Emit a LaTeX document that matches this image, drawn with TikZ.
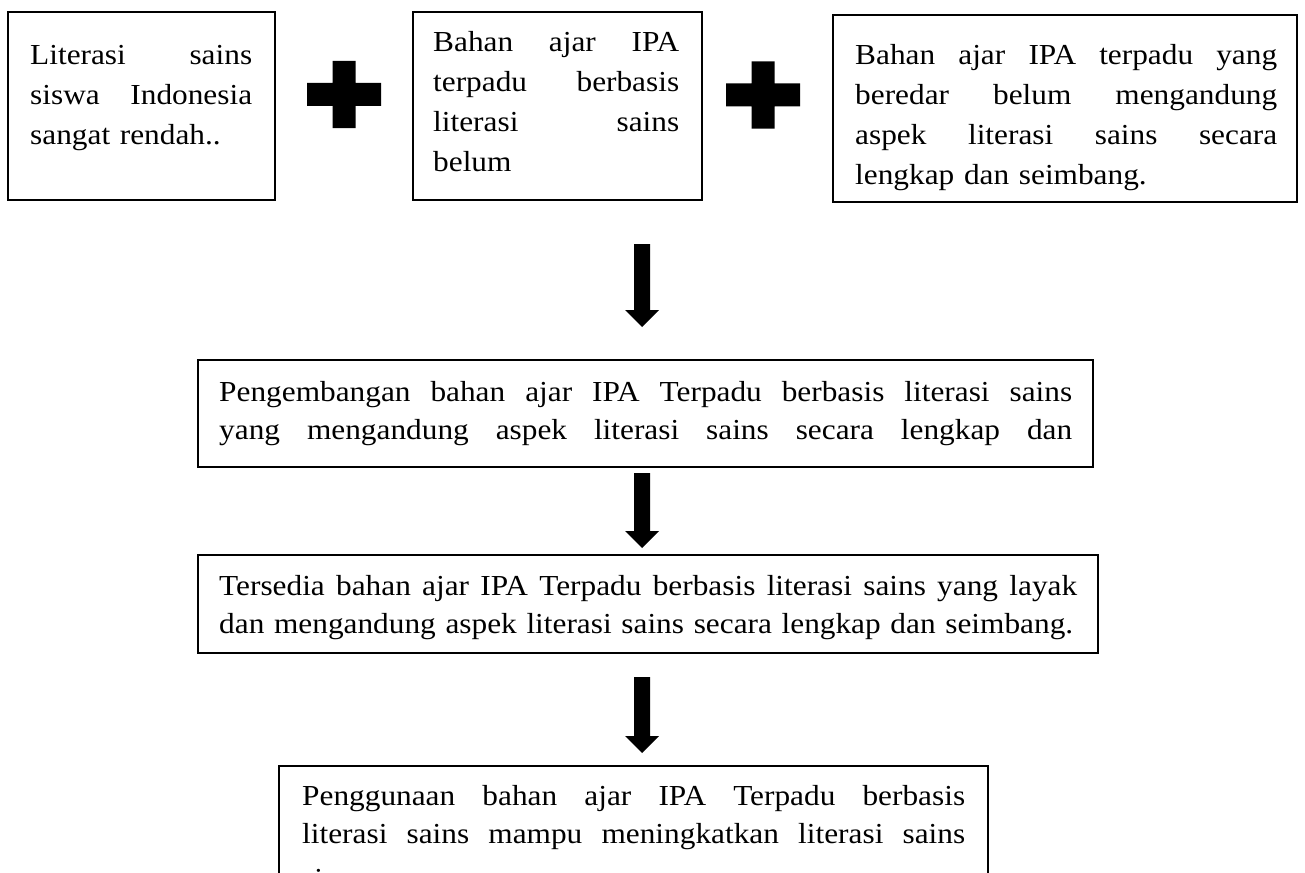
\documentclass[tikz,border=0pt]{standalone}
\usepackage{fontspec}
\setmainfont{Liberation Serif}[FakeStretch=1.08]
\usetikzlibrary{calc}
\newcommand\jl[2]{\leavevmode\hbox to #1{\spaceskip=0.25em plus 1fil\relax #2}}
\newcommand\barrow[2]{\fill ($(#1)+(-8,0)$) -- ($(#2)+(-8,-17)$) -- ($(#2)+(-17,-17)$) -- (#2) -- ($(#2)+(17,-17)$) -- ($(#2)+(8,-17)$) -- ($(#1)+(8,0)$) -- cycle;}
\newcommand\plussign[1]{\fill[shift={(#1)}] (-11.5,-33.5) -- (11.5,-33.5) -- (11.5,-11.5) -- (37,-11.5) -- (37,11.5) -- (11.5,11.5) -- (11.5,33.5) -- (-11.5,33.5) -- (-11.5,11.5) -- (-37,11.5) -- (-37,-11.5) -- (-11.5,-11.5) -- cycle;}
\begin{document}
\begin{tikzpicture}[x=1pt,y=-1pt,
  frame/.style={draw, line width=2.2pt, inner sep=0pt},
  txt/.style={inner sep=0pt, anchor=base west, align=left, text width=1000pt, font=\fontsize{29}{38}\selectfont},
  toptxt/.style={txt, font=\fontsize{29}{40}\selectfont}]
\useasboundingbox (0,0) rectangle (1305,872);
\clip (0,0) rectangle (1305,872);
% boxes
\node[frame, minimum width=267pt, minimum height=188pt] (b1) at (141.5,106) {};
\node[frame, minimum width=289pt, minimum height=188pt] (b2) at (557.5,106) {};
\node[frame, minimum width=464pt, minimum height=187pt] (b3) at (1065,108.5) {};
\node[frame, minimum width=895pt, minimum height=107pt] (b4) at (645.5,413.5) {};
\node[frame, minimum width=900pt, minimum height=98pt] (b5) at (648,604) {};
\node[frame, minimum width=709pt, minimum height=194pt] (b6) at (633.5,863) {};
% texts
\node[toptxt] (t1) at (30,65) {\jl{222pt}{Literasi sains}\\\jl{222pt}{siswa Indonesia}\\sangat rendah..};
\node[toptxt] (t2) at (433,52) {\jl{246pt}{Bahan ajar IPA}\\\jl{246pt}{terpadu berbasis}\\\jl{246pt}{literasi sains}\\belum};
\node[toptxt] (t3) at (855,65) {\jl{422pt}{Bahan ajar IPA terpadu yang}\\\jl{422pt}{beredar belum mengandung}\\\jl{422pt}{aspek literasi sains secara}\\lengkap dan seimbang.};
\node[txt] (t4) at (219,401) {\jl{853pt}{Pengembangan bahan ajar IPA Terpadu berbasis literasi sains}\\\jl{853pt}{yang mengandung aspek literasi sains secara lengkap dan}};
\node[txt] (t5) at (219,595) {\jl{858pt}{Tersedia bahan ajar IPA Terpadu berbasis literasi sains yang layak}\\dan mengandung aspek literasi sains secara lengkap dan seimbang.};
\node[txt] (t6) at (302,805) {\jl{663pt}{Penggunaan bahan ajar IPA Terpadu berbasis}\\\jl{663pt}{literasi sains mampu meningkatkan literasi sains}\\[7pt]siswa.};
% plus signs
\coordinate (p1) at (344,94.5);
\coordinate (p2) at (763,95);
\plussign{p1}
\plussign{p2}
% arrows
\coordinate (a1s) at (642,244);
\coordinate (a1e) at (642,327);
\coordinate (a2s) at (642,473);
\coordinate (a2e) at (642,548);
\coordinate (a3s) at (642,677);
\coordinate (a3e) at (642,753);
\barrow{a1s}{a1e}
\barrow{a2s}{a2e}
\barrow{a3s}{a3e}
\end{tikzpicture}
\end{document}
